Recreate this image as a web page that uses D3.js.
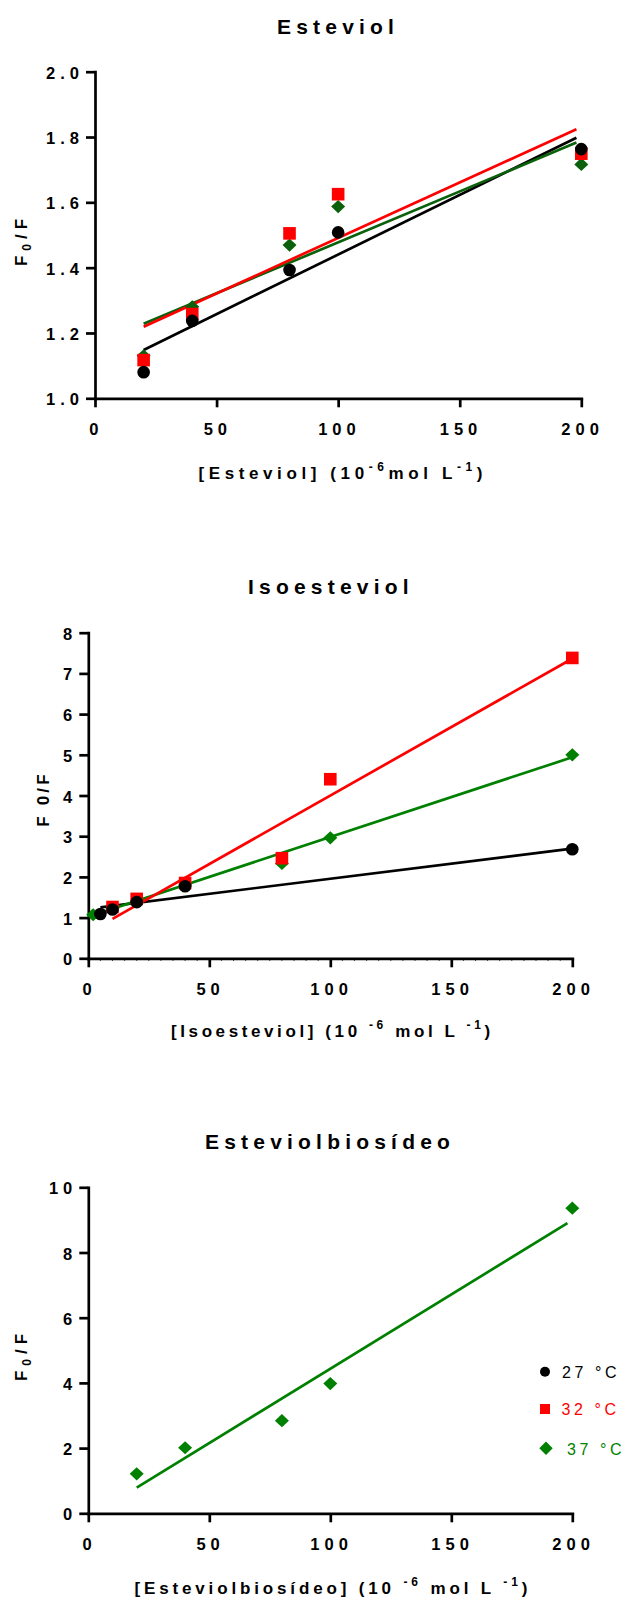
<!DOCTYPE html>
<html><head><meta charset="utf-8">
<script src="https://cdn.jsdelivr.net/npm/d3@7"></script>
<style>
body{margin:0;background:#fff}
svg{display:block}
text{font-family:"Liberation Sans",Arial,sans-serif}
</style>
</head><body>
<svg id="c" width="624" height="1600"></svg>
<script>
// ---------- DATA ----------
const xTicks = [0, 50, 100, 150, 200];

// Esteviol
const estX = [20, 40, 80, 100, 200];
const est27 = [1.080, 1.237, 1.393, 1.508, 1.763];
const est32 = [1.117, 1.258, 1.505, 1.625, 1.749];
const est37 = [1.130, 1.280, 1.469, 1.587, 1.716];
const estFitX = [20, 198];
const estFit27 = [1.148, 1.798];
const estFit32 = [1.219, 1.824];
const estFit37 = [1.228, 1.783];
const estYTicks = [1.0, 1.2, 1.4, 1.6, 1.8, 2.0];

// Isoesteviol
const isoX27 = [5, 10, 20, 40, 200];
const iso27 = [1.09, 1.20, 1.38, 1.77, 2.68];
const isoX32 = [10, 20, 40, 80, 100, 200];
const iso32 = [1.26, 1.46, 1.85, 2.46, 4.40, 7.38];
const isoX37 = [2, 10, 20, 40, 80, 100, 200];
const iso37 = [1.07, 1.22, 1.40, 1.80, 2.33, 2.96, 5.00];
const isoFitX27 = [5, 199];   const isoFit27 = [1.25, 2.69];
const isoFitX32 = [10, 199];  const isoFit32 = [0.97, 7.33];
const isoFitX37 = [2, 199];   const isoFit37 = [1.06, 4.92];
const isoYTicks = [0, 1, 2, 3, 4, 5, 6, 7, 8];

// Esteviolbiosideo
const bioX = [20, 40, 80, 100, 200];
const bio37 = [1.21, 2.01, 2.84, 3.98, 9.36];
const bioFitX = [20, 198];
const bioFit37 = [0.79, 8.90];
const bioYTicks = [0, 2, 4, 6, 8, 10];

const legendLabels = ["27 °C", "32 °C", "37 °C"];

// ---------- STYLE ----------
const BLACK = "#000000", RED = "#ff0000", GREEN = "#008000", DGREEN = "#0b610b";
const AXW = 2.7;
const svg = d3.select("#c");

function marker(sel, shape, color) {
  if (shape === "circle") {
    sel.append("circle").attr("r", 6.3).attr("fill", color);
  } else if (shape === "square") {
    sel.append("rect").attr("x", -6.3).attr("y", -6.3).attr("width", 12.6).attr("height", 12.6).attr("fill", color);
  } else {
    sel.append("path").attr("d", "M0,-6.6L7,0L0,6.6L-7,0Z").attr("fill", color);
  }
}

function richText(textSel, parts, shiftSize, shift) {
  let pending = 0;
  parts.forEach(part => {
    const ts = textSel.append("tspan").text(part.t);
    if (part.sup || part.sub) {
      const d = part.sup ? -shift : shift;
      ts.attr("font-size", shiftSize).attr("dy", pending + d);
      pending = -d;
    } else {
      if (pending) ts.attr("dy", pending);
      pending = 0;
    }
  });
}

function panel(p) {
  const g = svg.append("g");
  const x = d3.scaleLinear().domain([0, 200]).range([p.left, p.right]);
  const y = d3.scaleLinear().domain(p.yDomain).range([p.bottom, p.top]);

  const xa = g.append("g").attr("transform", `translate(0,${p.bottom})`)
    .call(d3.axisBottom(x).tickValues(xTicks).tickSize(9).tickSizeOuter(0).tickFormat(""));
  const ya = g.append("g").attr("transform", `translate(${p.left},0)`)
    .call(d3.axisLeft(y).tickValues(p.yTicks).tickSize(9).tickSizeOuter(0).tickFormat(""));
  [xa, ya].forEach(a => {
    a.selectAll("path.domain").attr("stroke", "#000").attr("stroke-width", AXW).attr("stroke-linecap", "square");
    a.selectAll(".tick line").attr("stroke", "#000").attr("stroke-width", AXW);
  });
  if (p.minor) {
    const mt = d3.range(5, 200, 5).filter(v => v % 50 !== 0);
    g.append("g").selectAll("line").data(mt).join("line")
      .attr("x1", d => x(d)).attr("x2", d => x(d))
      .attr("y1", p.bottom).attr("y2", p.bottom + 2.4)
      .attr("stroke", "#000").attr("stroke-width", 1);
  }

  const LS = 5;
  g.append("g").selectAll("text").data(xTicks).join("text")
    .attr("x", d => x(d) + 1.3).attr("y", p.bottom + 36.6)
    .attr("text-anchor", "middle").attr("font-size", 16.5).attr("font-weight", "bold")
    .attr("letter-spacing", LS).text(d => d);
  g.append("g").selectAll("text").data(p.yTicks).join("text")
    .attr("x", p.left - 16 + LS).attr("y", d => y(d) + 7)
    .attr("text-anchor", "end").attr("font-size", 16.5).attr("font-weight", "bold")
    .attr("letter-spacing", LS).text(p.yFmt);

  p.series.forEach(s => {
    if (!s.fx) return;
    g.append("line")
      .attr("x1", x(s.fx[0])).attr("y1", y(s.fy[0]))
      .attr("x2", x(s.fx[1])).attr("y2", y(s.fy[1]))
      .attr("stroke", s.color).attr("stroke-width", 2.7);
  });
  p.series.forEach(s => {
    if (!s.shape) return;
    s.xs.forEach((xv, i) => {
      const m = g.append("g").attr("transform", `translate(${x(xv)},${y(s.ys[i])})`);
      marker(m, s.shape, s.color);
    });
  });

  g.append("text").attr("x", p.titleX).attr("y", p.titleY)
    .attr("font-size", 21).attr("font-weight", "bold").attr("letter-spacing", 5.2)
    .text(p.title);

  const xl = g.append("text").attr("x", p.xlX).attr("y", p.xlY)
    .attr("font-size", 17).attr("font-weight", "bold").attr("letter-spacing", p.xlLS)
    .attr("xml:space", "preserve").style("white-space", "pre");
  richText(xl, p.xlParts, 12, 8);

  const yl = g.append("text")
    .attr("transform", `translate(${p.ylX},${p.ylY}) rotate(-90)`)
    .attr("text-anchor", "middle").attr("font-size", 17).attr("font-weight", "bold")
    .attr("letter-spacing", p.ylLS).attr("xml:space", "preserve").style("white-space", "pre");
  richText(yl, p.ylParts, 12, 4);
  return {x, y};
}

// Panel 1: Esteviol
panel({
  left: 95, right: 581.3, top: 71.7, bottom: 398.3,
  yDomain: [1.0, 2.0], yTicks: estYTicks, yFmt: d => d3.format(".1f")(d),
  series: [
    {fx: estFitX, fy: estFit27, color: BLACK},
    {fx: estFitX, fy: estFit37, color: DGREEN},
    {fx: estFitX, fy: estFit32, color: RED},
    {xs: estX, ys: est37, color: DGREEN, shape: "diamond"},
    {xs: estX, ys: est32, color: RED, shape: "square"},
    {xs: estX, ys: est27, color: BLACK, shape: "circle"}
  ],
  title: "Esteviol", titleX: 277, titleY: 34,
  xlParts: [{t: "[Esteviol] (10"}, {t: "-6", sup: true}, {t: "mol L"}, {t: "-1", sup: true}, {t: ")"}],
  xlX: 198.5, xlY: 479, xlLS: 4.6,
  ylParts: [{t: "F"}, {t: "0", sub: true}, {t: "/F"}], ylLS: 5,
  ylX: 27, ylY: 240
});

// Panel 2: Isoesteviol
panel({
  left: 88.3, right: 572.3, top: 632.7, bottom: 958.3, minor: true,
  yDomain: [0, 8], yTicks: isoYTicks, yFmt: d => d,
  series: [
    {fx: isoFitX27, fy: isoFit27, color: BLACK},
    {fx: isoFitX37, fy: isoFit37, color: GREEN},
    {fx: isoFitX32, fy: isoFit32, color: RED},
    {xs: isoX37, ys: iso37, color: GREEN, shape: "diamond"},
    {xs: isoX32, ys: iso32, color: RED, shape: "square"},
    {xs: isoX27, ys: iso27, color: BLACK, shape: "circle"}
  ],
  title: "Isoesteviol", titleX: 248, titleY: 594,
  xlParts: [{t: "[Isoesteviol] (10 "}, {t: "-6", sup: true}, {t: " mol L "}, {t: "-1", sup: true}, {t: ")"}],
  xlX: 171, xlY: 1037, xlLS: 3.6,
  ylParts: [{t: "F 0/F"}], ylLS: 3.2,
  ylX: 49, ylY: 799
});

// Panel 3: Esteviolbiosideo
panel({
  left: 88.3, right: 572.3, top: 1187.3, bottom: 1513.3,
  yDomain: [0, 10], yTicks: bioYTicks, yFmt: d => d,
  series: [
    {fx: bioFitX, fy: bioFit37, color: GREEN},
    {xs: bioX, ys: bio37, color: GREEN, shape: "diamond"}
  ],
  title: "Esteviolbiosídeo", titleX: 205, titleY: 1149,
  xlParts: [{t: "[Esteviolbiosídeo] (10 "}, {t: "-6", sup: true}, {t: " mol L "}, {t: "-1", sup: true}, {t: ")"}],
  xlX: 134.5, xlY: 1594, xlLS: 3.85,
  ylParts: [{t: "F"}, {t: "0", sub: true}, {t: "/F"}], ylLS: 5,
  ylX: 27, ylY: 1355
});

// Legend
const legColors = [BLACK, RED, GREEN];
const legShapes = ["circle", "square", "diamond"];
const legY = [1371.7, 1409, 1448.3];
const legTextX = [562, 561.5, 567];
const lg = svg.append("g");
legendLabels.forEach((lab, i) => {
  const m = lg.append("g").attr("transform", `translate(${i === 2 ? 546 : 545},${legY[i]})`);
  if (legShapes[i] === "circle") m.append("circle").attr("r", 5).attr("fill", legColors[i]);
  else if (legShapes[i] === "square") m.append("rect").attr("x", -5).attr("y", -5).attr("width", 10).attr("height", 10).attr("fill", legColors[i]);
  else m.append("path").attr("d", "M0,-6.7L6.7,0L0,6.7L-6.7,0Z").attr("fill", legColors[i]);
  const t = lg.append("text").attr("x", legTextX[i]).attr("y", legY[i] + 6.2)
    .attr("font-size", 16).attr("fill", legColors[i])
    .attr("xml:space", "preserve").style("white-space", "pre");
  t.append("tspan").attr("letter-spacing", 3.6).text(lab.slice(0, -1));
  t.append("tspan").text(lab.slice(-1));
});
</script>
</body></html>
